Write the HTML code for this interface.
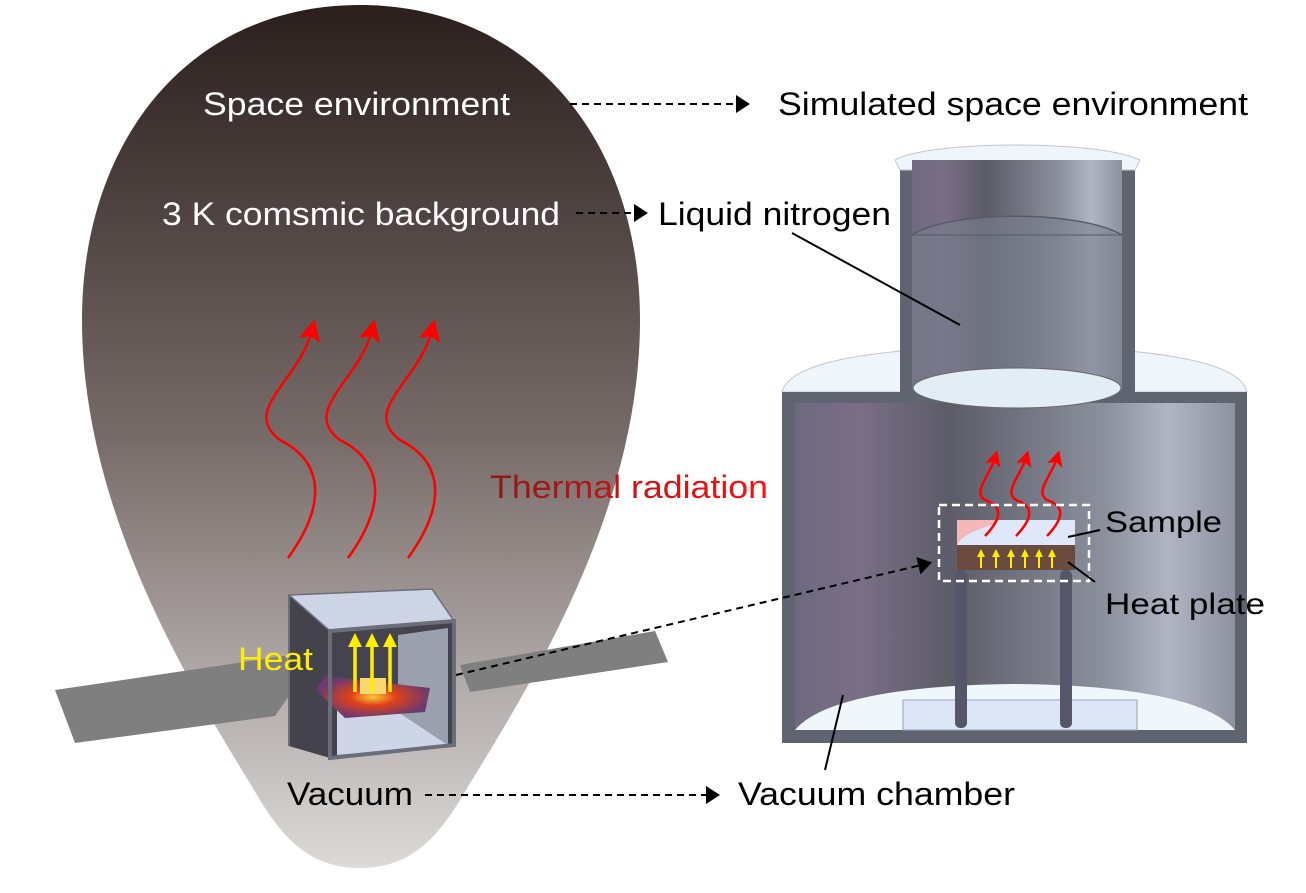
<!DOCTYPE html>
<html><head><meta charset="utf-8"><style>
html,body{margin:0;padding:0;background:#fff;}
svg{display:block;font-family:"Liberation Sans",Arial,sans-serif;}
</style></head><body>
<svg width="1306" height="893" viewBox="0 0 1306 893" xmlns="http://www.w3.org/2000/svg">
<defs>
<linearGradient id="drop" x1="0" y1="0" x2="0" y2="1">
<stop offset="0" stop-color="#2a1f1c"/><stop offset="0.5" stop-color="#776b69"/><stop offset="1" stop-color="#dcdad9"/>
</linearGradient>
<linearGradient id="cyl" x1="0" y1="0" x2="1" y2="0">
<stop offset="0" stop-color="#6e6a80"/><stop offset="0.15" stop-color="#7a6e86"/><stop offset="0.35" stop-color="#5c5c68"/><stop offset="0.7" stop-color="#8b8f9c"/><stop offset="0.85" stop-color="#b1b5c3"/><stop offset="1" stop-color="#8e92a0"/>
</linearGradient>
<linearGradient id="tr" x1="0" y1="0" x2="1" y2="0">
<stop offset="0" stop-color="#8b1a1a"/><stop offset="1" stop-color="#ff1010"/>
</linearGradient>
<radialGradient id="hot" cx="0.5" cy="0.5" r="0.5">
<stop offset="0" stop-color="#ffcc33"/><stop offset="0.4" stop-color="#e0401a"/><stop offset="1" stop-color="#6a3a70"/>
</radialGradient>
<marker id="ah" markerWidth="14" markerHeight="18" refX="12" refY="9" orient="auto" markerUnits="userSpaceOnUse"><path d="M0,0 L14,9 L0,18 z" fill="#000"/></marker>
<marker id="rh" markerWidth="22" markerHeight="22" refX="11" refY="11" orient="auto" markerUnits="userSpaceOnUse"><path d="M0,0 L22,11 L0,22 L5,11 z" fill="#f00"/></marker>
<marker id="rhs" markerWidth="16" markerHeight="16" refX="8" refY="8" orient="auto" markerUnits="userSpaceOnUse"><path d="M0,0 L16,8 L0,16 L4,8 z" fill="#f00"/></marker>
<marker id="yh" markerWidth="14" markerHeight="14" refX="7" refY="7" orient="auto" markerUnits="userSpaceOnUse"><path d="M0,0 L14,7 L0,14 z" fill="#ffee00"/></marker>
<marker id="yhs" markerWidth="8" markerHeight="8" refX="4" refY="4" orient="auto" markerUnits="userSpaceOnUse"><path d="M0,0 L8,4 L0,8 z" fill="#ffee00"/></marker>
</defs>

<path d="M360,5 C190,5 82,140 82,320 C82,520 200,700 260,800 C290,850 320,868 360,868 C400,868 430,850 460,800 C520,700 640,520 640,320 C640,140 530,5 360,5 Z" fill="url(#drop)"/>

<polygon points="55,690 285,656 300,680 275,716 75,743" fill="#7f7f7f"/>
<polygon points="460,665 655,631 668,662 470,692" fill="#7f7f7f"/>

<polygon points="289,595 330,631 330,758 289,746" fill="#44424c"/>
<polygon points="289,595 432,589 454,621 330,631" fill="#ccd4e6" stroke="#6a6e78" stroke-width="1.5"/>
<polygon points="330,631 454,621 454,745 330,758" fill="#45434d"/>
<polygon points="398,635 448,628 448,745 398,712" fill="#9aa0ae"/>
<polygon points="337,710 398,712 448,745 337,755" fill="#cdd5e7"/>
<polygon points="316,690 325,676 430,688 425,712 345,718" fill="url(#hot)"/>
<rect x="360" y="678" width="26" height="16" fill="#f8d870"/>
<polygon points="330,631 454,621 454,745 330,758" fill="none" stroke="#6a6e78" stroke-width="4"/>
<line x1="289" y1="595" x2="289" y2="746" stroke="#6a6e78" stroke-width="2"/>
<g stroke="#ffee00" stroke-width="3.5">
<line x1="355" y1="692" x2="355" y2="640" marker-end="url(#yh)"/>
<line x1="372" y1="692" x2="372" y2="640" marker-end="url(#yh)"/>
<line x1="390" y1="692" x2="390" y2="640" marker-end="url(#yh)"/>
</g>
<text x="238" y="670" font-size="32" fill="#ffee00" textLength="75" lengthAdjust="spacingAndGlyphs">Heat</text>

<g fill="none" stroke="#f00" stroke-width="2.5">
<path d="M288,558 C330,500 320,460 280,440 C240,410 300,380 312,330" marker-end="url(#rh)"/>
<path d="M348,558 C390,500 380,460 340,440 C300,410 360,380 372,330" marker-end="url(#rh)"/>
<path d="M408,558 C450,500 440,460 400,440 C360,410 420,380 432,330" marker-end="url(#rh)"/>
</g>

<path d="M782,392 C790,360 880,348 1015,345 C1150,348 1240,360 1247,392 Z" fill="#eef6fb" stroke="#bfc6cc"/>
<rect x="782" y="392" width="465" height="351" fill="#5f6470"/>
<rect x="795" y="403" width="440" height="327" fill="url(#cyl)"/>
<path d="M795,730 C820,700 900,685 1015,684 C1130,685 1210,700 1235,730 Z" fill="#f0f7fb"/>
<rect x="903" y="700" width="234" height="30" fill="#dde6f7" stroke="#9aa3b8"/>
<path d="M900,165 L900,395 C960,410 1070,410 1135,395 L1135,165 Z" fill="#5f6470"/>
<path d="M895,160 C930,140 1100,140 1140,160 L1135,170 L900,170 Z" fill="#eef6fb" stroke="#bfc6cc"/>
<path d="M912,160 L912,390 L1122,390 L1122,160 Z" fill="url(#cyl)"/>
<path d="M912,235 C950,210 1080,210 1122,235 L1122,390 L912,390 Z" fill="#7a7f8e" opacity="0.6"/>
<path d="M912,235 C950,210 1080,210 1122,235" fill="none" stroke="#555a66" stroke-width="1.5"/>
<line x1="912" y1="235" x2="1122" y2="235" stroke="#555a66" stroke-width="1"/>
<ellipse cx="1017" cy="388" rx="104" ry="20" fill="#e2edf5" stroke="#666"/>
<rect x="955" y="570" width="12" height="158" rx="5" fill="#55566a"/>
<rect x="1060" y="570" width="12" height="158" rx="5" fill="#55566a"/>
<rect x="957" y="545" width="118" height="25" fill="#6b4a3f"/>
<rect x="957" y="520" width="118" height="25" fill="#dfe8fb"/>
<path d="M957,520 L1000,520 C990,528 965,530 957,545 Z" fill="#f4b8b8"/>
<g stroke="#ffee00" stroke-width="2">
<line x1="981" y1="568" x2="981" y2="553" marker-end="url(#yhs)"/>
<line x1="996" y1="568" x2="996" y2="553" marker-end="url(#yhs)"/>
<line x1="1011" y1="568" x2="1011" y2="553" marker-end="url(#yhs)"/>
<line x1="1025" y1="568" x2="1025" y2="553" marker-end="url(#yhs)"/>
<line x1="1039" y1="568" x2="1039" y2="553" marker-end="url(#yhs)"/>
<line x1="1052" y1="568" x2="1052" y2="553" marker-end="url(#yhs)"/>
</g>
<g fill="none" stroke="#f00" stroke-width="2.5">
<path d="M985,536 C1005,515 1000,505 985,500 C972,492 990,475 995,458" marker-end="url(#rhs)"/>
<path d="M1016,536 C1036,515 1031,505 1016,500 C1003,492 1021,475 1026,458" marker-end="url(#rhs)"/>
<path d="M1047,536 C1067,515 1062,505 1047,500 C1034,492 1052,475 1057,458" marker-end="url(#rhs)"/>
</g>
<rect x="939" y="505" width="150" height="76" fill="none" stroke="#fff" stroke-width="2.5" stroke-dasharray="8,5"/>

<g font-size="32" fill="#fff">
<text x="203" y="115" textLength="307" lengthAdjust="spacingAndGlyphs">Space environment</text>
<text x="162" y="225" textLength="398" lengthAdjust="spacingAndGlyphs">3 K comsmic background</text>
</g>
<text x="490" y="498" font-size="32" fill="url(#tr)" textLength="278" lengthAdjust="spacingAndGlyphs">Thermal radiation</text>
<g font-size="32" fill="#000">
<text x="778" y="115" textLength="470" lengthAdjust="spacingAndGlyphs">Simulated space environment</text>
<text x="658" y="225" textLength="233" lengthAdjust="spacingAndGlyphs">Liquid nitrogen</text>
<text x="287" y="805" textLength="126" lengthAdjust="spacingAndGlyphs">Vacuum</text>
<text x="738" y="805" textLength="277" lengthAdjust="spacingAndGlyphs">Vacuum chamber</text>
<text x="1105" y="532" font-size="30" textLength="117" lengthAdjust="spacingAndGlyphs">Sample</text>
<text x="1105" y="614" font-size="30" textLength="160" lengthAdjust="spacingAndGlyphs">Heat plate</text>
</g>

<g stroke="#000" stroke-width="2" stroke-dasharray="7,5" fill="none">
<line x1="570" y1="104" x2="748" y2="104" marker-end="url(#ah)"/>
<line x1="576" y1="213" x2="646" y2="213" marker-end="url(#ah)"/>
<line x1="425" y1="795" x2="718" y2="795" marker-end="url(#ah)"/>
<line x1="456" y1="675" x2="930" y2="563" marker-end="url(#ah)"/>
</g>

<g stroke="#000" stroke-width="2">
<line x1="792" y1="233" x2="960" y2="325"/>
<line x1="1068" y1="537" x2="1100" y2="530"/>
<line x1="1068" y1="562" x2="1095" y2="582"/>
<line x1="843" y1="695" x2="825" y2="770"/>
</g>
</svg>
</body></html>
